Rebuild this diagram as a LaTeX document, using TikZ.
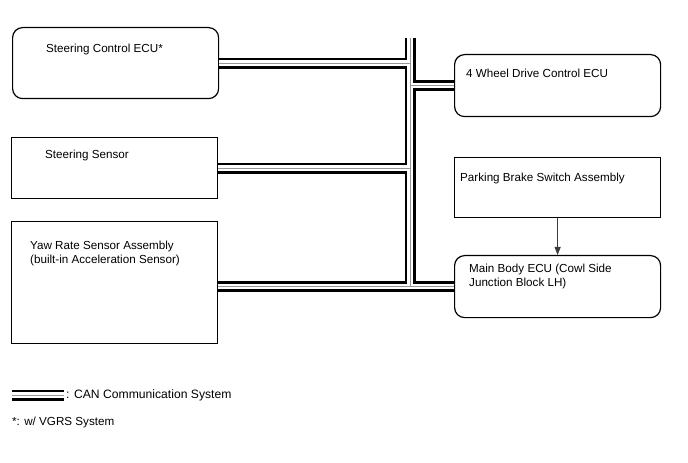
\documentclass[tikz,border=0pt]{standalone}
\usepackage{fontspec}
\setmainfont{Liberation Sans}
\usepackage{xcolor}
\usepackage{tikz}
\usetikzlibrary{arrows.meta, positioning}
\definecolor{busgray}{RGB}{150,150,150}
\definecolor{linkgray}{RGB}{60,60,60}

\begin{document}
\begin{tikzpicture}[
        x=1bp, y=-1bp,
        unit/.style={rectangle, draw=black, line width=1.2bp, anchor=north west,
                    minimum width=206bp, inner sep=0pt},
        ecu/.style={unit, rounded corners=10bp},
        lbl/.style={anchor=base west, inner sep=0pt, align=left,
                    font=\fontsize{11.7}{14.3}\selectfont},
        link/.style={-{Triangle[width=6bp, length=8bp]}, line width=1bp, linkgray},
      ]
      \useasboundingbox (0,0) rectangle (688,463);

      \node[ecu, minimum height=71bp] (steerecu) at (12,27) {};
      \node[unit, minimum height=61bp] (steersens) at (11,137) {};
      \node[unit, minimum height=122bp] (yawsens) at (11,221) {};
      \node[ecu, minimum height=62bp] (fwdecu) at (454,54) {};
      \node[unit, minimum height=60bp] (pkbsw) at (454,157) {};
      \node[ecu, minimum height=62bp] (mainecu) at (454,255) {};

      \node[lbl] (steerecutxt) at (46,53) {Steering Control ECU*};
      \node[lbl] (steersenstxt) at (45,159) {Steering Sensor};
      \node[lbl] (yawsenstxt) at (30,263.3) {Yaw Rate Sensor Assembly\\(built-in Acceleration Sensor)};
      \node[lbl] (fwdecutxt) at (466,78) {4 Wheel Drive Control ECU};
      \node[lbl] (pkbswtxt) at (460,182) {Parking Brake Switch Assembly};
      \node[lbl] (mainecutxt) at (469,286.3) {Main Body ECU (Cowl Side\\Junction Block LH)};

      \coordinate (trunk) at (410,38);
      \coordinate (legA) at (12,395);
      \coordinate (legB) at (64,395);

      \foreach \w/\c in {11bp/black, 5.4bp/white, 1bp/busgray}
        \draw[line width=\w, \c]
          (trunk) -- (trunk |- mainecu.west)
          (steerecu.east) -- (steerecu.east -| trunk)
          (steersens.east) -- (steersens.east -| trunk)
          (mainecu.west -| yawsens.east) -- (mainecu.west)
          (fwdecu.west -| trunk) -- (fwdecu.west)
          (legA) -- (legB);

      \draw[link] (pkbsw) -- (mainecu);

      \node[lbl, anchor=west, right=2bp of legB, font=\fontsize{12.2}{14.3}\selectfont]
        (legtxt) {: CAN Communication System};
      \node[lbl] (vgrs) at (12,425) {*: w/ VGRS System};
    \end{tikzpicture}
\end{document}
